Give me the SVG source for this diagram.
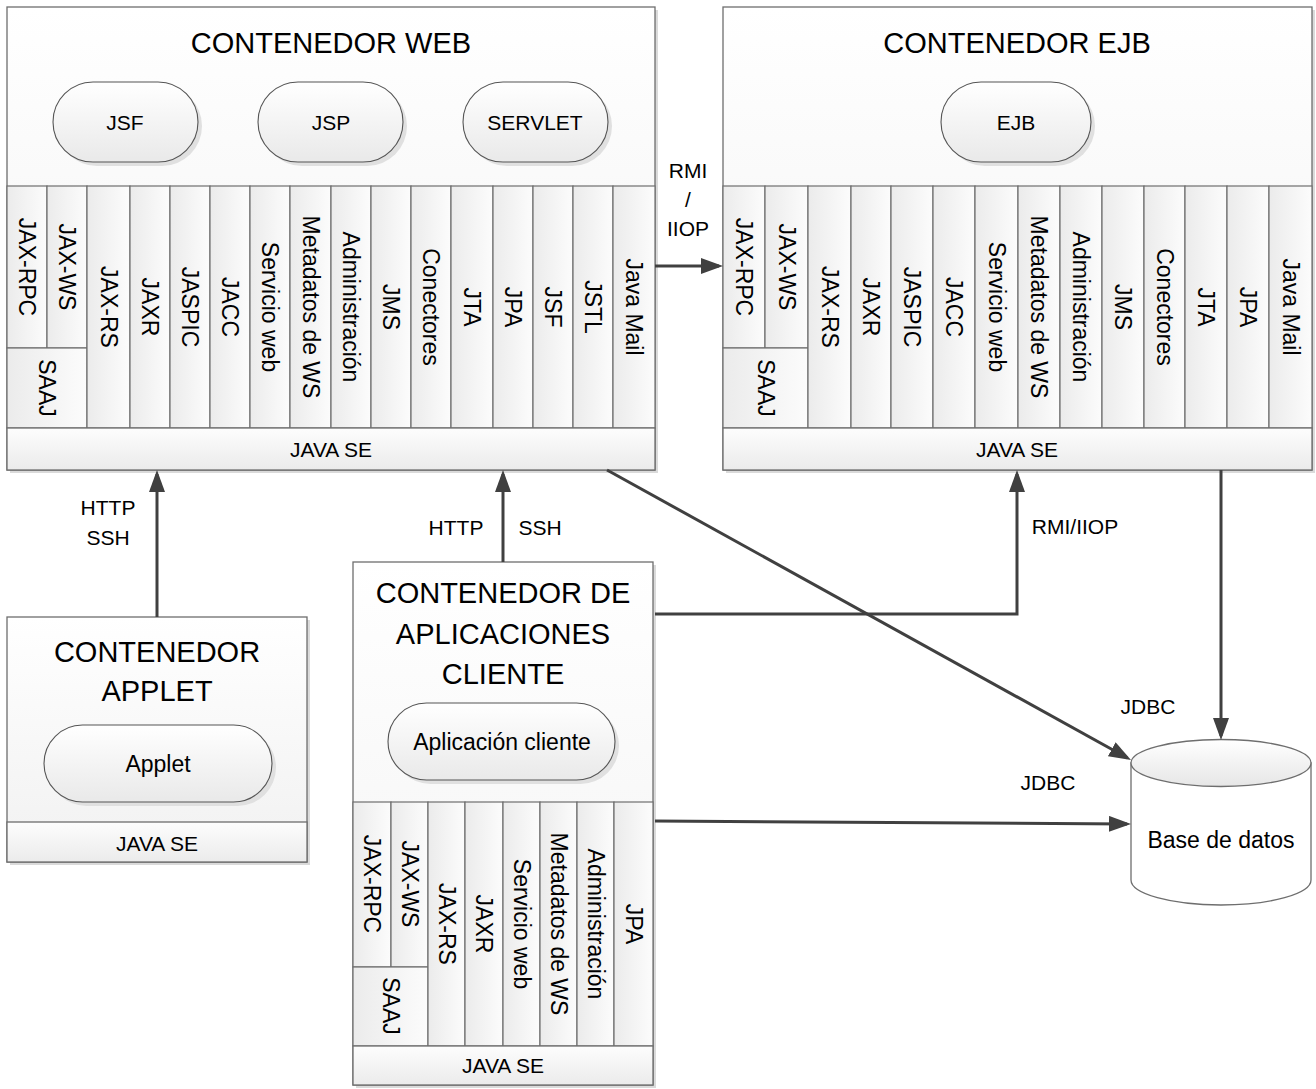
<svg xmlns="http://www.w3.org/2000/svg" width="1316" height="1089" viewBox="0 0 1316 1089">
<defs>
  <linearGradient id="gBox" x1="0" y1="0" x2="0" y2="1">
    <stop offset="0" stop-color="#ffffff"/>
    <stop offset="1" stop-color="#f1f1f1"/>
  </linearGradient>
  <linearGradient id="gCol" x1="0" y1="0" x2="1" y2="0">
    <stop offset="0" stop-color="#ebebeb"/>
    <stop offset="1" stop-color="#fcfcfc"/>
  </linearGradient>
  <linearGradient id="gBand" x1="0" y1="0" x2="0" y2="1">
    <stop offset="0" stop-color="#fdfdfd"/>
    <stop offset="1" stop-color="#ebebeb"/>
  </linearGradient>
  <linearGradient id="gPill" x1="0" y1="0" x2="0" y2="1">
    <stop offset="0" stop-color="#ffffff"/>
    <stop offset="1" stop-color="#e9e9e9"/>
  </linearGradient>
  <linearGradient id="gTop" x1="0" y1="0" x2="0" y2="1">
    <stop offset="0" stop-color="#ffffff"/>
    <stop offset="1" stop-color="#e6e6e6"/>
  </linearGradient>
  <marker id="arr" markerUnits="userSpaceOnUse" markerWidth="22" markerHeight="16" viewBox="0 0 22 16" refX="18" refY="8" orient="auto">
    <path d="M0,0 L22,8 L0,16 Z" fill="#404040"/>
  </marker>
  <style>
    .box{fill:url(#gBox);stroke:#6e6e6e;stroke-width:1.3}
    .col{fill:url(#gCol);stroke:#6e6e6e;stroke-width:1.2}
    .band{fill:url(#gBand);stroke:#6e6e6e;stroke-width:1.3}
    .pill{fill:url(#gPill);stroke:#555;stroke-width:1.1}
    .sh{fill:#dadada}
    .shp{fill:#e0e0e0}
    .t{font-family:"Liberation Sans",Arial,sans-serif;fill:#000;text-anchor:middle;dominant-baseline:central}
    .title{font-size:29px}
    .s{font-size:21px}
    .m{font-size:23px}
    .r{font-size:23px}
    .conn{fill:none;stroke:#404040;stroke-width:3}
  </style>
</defs>

<!-- CONTENEDOR WEB -->
<g id="web">
  <rect class="sh" x="10" y="10" width="648" height="463"/>
  <rect class="box" x="7" y="7" width="648" height="463"/>
  <text class="t title" x="331" y="43">CONTENEDOR WEB</text>
  <rect class="shp" x="57" y="86" width="145" height="80" rx="40"/>
  <rect class="pill" x="53" y="82" width="145" height="80" rx="40"/>
  <text class="t s" x="125" y="122">JSF</text>
  <rect class="shp" x="262" y="86" width="145" height="80" rx="40"/>
  <rect class="pill" x="258" y="82" width="145" height="80" rx="40"/>
  <text class="t s" x="331" y="122">JSP</text>
  <rect class="shp" x="467" y="86" width="145" height="80" rx="40"/>
  <rect class="pill" x="463" y="82" width="145" height="80" rx="40"/>
  <text class="t s" x="535" y="122">SERVLET</text>
  <rect class="col" x="7" y="186" width="40" height="162"/>
  <rect class="col" x="47" y="186" width="40" height="162"/>
  <rect class="col" x="7" y="348" width="80" height="80"/>
  <rect class="col" x="87" y="186" width="43" height="242"/>
  <rect class="col" x="130" y="186" width="40" height="242"/>
  <rect class="col" x="170" y="186" width="40" height="242"/>
  <rect class="col" x="210" y="186" width="40" height="242"/>
  <rect class="col" x="250" y="186" width="40" height="242"/>
  <rect class="col" x="290" y="186" width="41" height="242"/>
  <rect class="col" x="331" y="186" width="40" height="242"/>
  <rect class="col" x="371" y="186" width="40" height="242"/>
  <rect class="col" x="411" y="186" width="40" height="242"/>
  <rect class="col" x="451" y="186" width="42" height="242"/>
  <rect class="col" x="493" y="186" width="40" height="242"/>
  <rect class="col" x="533" y="186" width="40" height="242"/>
  <rect class="col" x="573" y="186" width="40" height="242"/>
  <rect class="col" x="613" y="186" width="42" height="242"/>
  <rect class="band" x="7" y="428" width="648" height="42"/>
  <text class="t s" x="331" y="449">JAVA SE</text>
  <g class="t r">
    <text transform="translate(27,267) rotate(90)">JAX-RPC</text>
    <text transform="translate(67,267) rotate(90)">JAX-WS</text>
    <text transform="translate(47,388) rotate(90)">SAAJ</text>
    <text transform="translate(108.5,307) rotate(90)">JAX-RS</text>
    <text transform="translate(150,307) rotate(90)">JAXR</text>
    <text transform="translate(190,307) rotate(90)">JASPIC</text>
    <text transform="translate(230,307) rotate(90)">JACC</text>
    <text transform="translate(270,307) rotate(90)">Servicio web</text>
    <text transform="translate(310.5,307) rotate(90)">Metadatos de WS</text>
    <text transform="translate(351,307) rotate(90)">Administración</text>
    <text transform="translate(391,307) rotate(90)">JMS</text>
    <text transform="translate(431,307) rotate(90)">Conectores</text>
    <text transform="translate(472,307) rotate(90)">JTA</text>
    <text transform="translate(513,307) rotate(90)">JPA</text>
    <text transform="translate(553,307) rotate(90)">JSF</text>
    <text transform="translate(593,307) rotate(90)">JSTL</text>
    <text transform="translate(634,307) rotate(90)">Java Mail</text>
  </g>
</g>

<!-- CONTENEDOR EJB -->
<g id="ejb">
  <rect class="sh" x="726" y="10" width="589" height="463"/>
  <rect class="box" x="723" y="7" width="589" height="463"/>
  <text class="t title" x="1017" y="43">CONTENEDOR EJB</text>
  <rect class="shp" x="945" y="86" width="150" height="80" rx="40"/>
  <rect class="pill" x="941" y="82" width="150" height="80" rx="40"/>
  <text class="t s" x="1016" y="122">EJB</text>
  <rect class="col" x="723" y="186" width="42" height="162"/>
  <rect class="col" x="765" y="186" width="43" height="162"/>
  <rect class="col" x="723" y="348" width="85" height="80"/>
  <rect class="col" x="808" y="186" width="43" height="242"/>
  <rect class="col" x="851" y="186" width="40" height="242"/>
  <rect class="col" x="891" y="186" width="42" height="242"/>
  <rect class="col" x="933" y="186" width="42" height="242"/>
  <rect class="col" x="975" y="186" width="43" height="242"/>
  <rect class="col" x="1018" y="186" width="42" height="242"/>
  <rect class="col" x="1060" y="186" width="42" height="242"/>
  <rect class="col" x="1102" y="186" width="42" height="242"/>
  <rect class="col" x="1144" y="186" width="41" height="242"/>
  <rect class="col" x="1185" y="186" width="42" height="242"/>
  <rect class="col" x="1227" y="186" width="42" height="242"/>
  <rect class="col" x="1269" y="186" width="43" height="242"/>
  <rect class="band" x="723" y="428" width="589" height="42"/>
  <text class="t s" x="1017" y="449">JAVA SE</text>
  <g class="t r">
    <text transform="translate(744,267) rotate(90)">JAX-RPC</text>
    <text transform="translate(786.5,267) rotate(90)">JAX-WS</text>
    <text transform="translate(765.5,388) rotate(90)">SAAJ</text>
    <text transform="translate(829.5,307) rotate(90)">JAX-RS</text>
    <text transform="translate(871,307) rotate(90)">JAXR</text>
    <text transform="translate(912,307) rotate(90)">JASPIC</text>
    <text transform="translate(954,307) rotate(90)">JACC</text>
    <text transform="translate(996.5,307) rotate(90)">Servicio web</text>
    <text transform="translate(1039,307) rotate(90)">Metadatos de WS</text>
    <text transform="translate(1081,307) rotate(90)">Administración</text>
    <text transform="translate(1123,307) rotate(90)">JMS</text>
    <text transform="translate(1164.5,307) rotate(90)">Conectores</text>
    <text transform="translate(1206,307) rotate(90)">JTA</text>
    <text transform="translate(1248,307) rotate(90)">JPA</text>
    <text transform="translate(1290.5,307) rotate(90)">Java Mail</text>
  </g>
</g>

<!-- CONTENEDOR APPLET -->
<g id="applet">
  <rect class="sh" x="10" y="620" width="300" height="245"/>
  <rect class="box" x="7" y="617" width="300" height="245"/>
  <text class="t title" x="157" y="652">CONTENEDOR</text>
  <text class="t title" x="157" y="691">APPLET</text>
  <rect class="shp" x="48" y="729" width="228" height="77" rx="38.5"/>
  <rect class="pill" x="44" y="725" width="228" height="77" rx="38.5"/>
  <text class="t m" x="158" y="764">Applet</text>
  <rect class="band" x="7" y="822" width="300" height="40"/>
  <text class="t s" x="157" y="843">JAVA SE</text>
</g>

<!-- CONTENEDOR DE APLICACIONES CLIENTE -->
<g id="cliente">
  <rect class="sh" x="356" y="565" width="300" height="523"/>
  <rect class="box" x="353" y="562" width="300" height="523"/>
  <text class="t title" x="503" y="593">CONTENEDOR DE</text>
  <text class="t title" x="503" y="634">APLICACIONES</text>
  <text class="t title" x="503" y="674">CLIENTE</text>
  <rect class="shp" x="392" y="707" width="227" height="77" rx="38.5"/>
  <rect class="pill" x="388" y="703" width="227" height="77" rx="38.5"/>
  <text class="t m" x="502" y="742">Aplicación cliente</text>
  <rect class="col" x="353" y="802" width="38" height="165"/>
  <rect class="col" x="391" y="802" width="37" height="165"/>
  <rect class="col" x="353" y="967" width="75" height="79"/>
  <rect class="col" x="428" y="802" width="37" height="244"/>
  <rect class="col" x="465" y="802" width="38" height="244"/>
  <rect class="col" x="503" y="802" width="37" height="244"/>
  <rect class="col" x="540" y="802" width="37" height="244"/>
  <rect class="col" x="577" y="802" width="37" height="244"/>
  <rect class="col" x="614" y="802" width="39" height="244"/>
  <rect class="band" x="353" y="1046" width="300" height="39"/>
  <text class="t s" x="503" y="1065">JAVA SE</text>
  <g class="t r">
    <text transform="translate(372,884) rotate(90)">JAX-RPC</text>
    <text transform="translate(409.5,884) rotate(90)">JAX-WS</text>
    <text transform="translate(390.5,1006) rotate(90)">SAAJ</text>
    <text transform="translate(446.5,924) rotate(90)">JAX-RS</text>
    <text transform="translate(484,924) rotate(90)">JAXR</text>
    <text transform="translate(521.5,924) rotate(90)">Servicio web</text>
    <text transform="translate(558.5,924) rotate(90)">Metadatos de WS</text>
    <text transform="translate(595.5,924) rotate(90)">Administración</text>
    <text transform="translate(633.5,924) rotate(90)">JPA</text>
  </g>
</g>

<!-- Base de datos -->
<g id="db">
  <path d="M1131,763 L1131,880 A90,25 0 0 0 1311,880 L1311,763 Z" fill="#ffffff" stroke="#6e6e6e" stroke-width="1.3"/>
  <ellipse cx="1221" cy="763" rx="90" ry="23.5" fill="url(#gTop)" stroke="#6e6e6e" stroke-width="1.3"/>
  <text class="t m" x="1221" y="840">Base de datos</text>
</g>

<!-- Connectors -->
<g id="connectors">
  <line class="conn" x1="157" y1="617" x2="157" y2="474" marker-end="url(#arr)"/>
  <line class="conn" x1="503" y1="562" x2="503" y2="474" marker-end="url(#arr)"/>
  <polyline class="conn" points="655,614 1017,614 1017,474" marker-end="url(#arr)"/>
  <line class="conn" x1="655" y1="266" x2="719" y2="266" marker-end="url(#arr)"/>
  <line class="conn" x1="607" y1="470" x2="1127.5" y2="758" marker-end="url(#arr)"/>
  <line class="conn" x1="1221" y1="470" x2="1221" y2="736" marker-end="url(#arr)"/>
  <line class="conn" x1="655" y1="821" x2="1127" y2="824" marker-end="url(#arr)"/>
  <g class="t s">
    <text x="688" y="170">RMI</text>
    <text x="688" y="199">/</text>
    <text x="688" y="228">IIOP</text>
    <text x="108" y="507">HTTP</text>
    <text x="108" y="537">SSH</text>
    <text x="456" y="527">HTTP</text>
    <text x="540" y="527">SSH</text>
    <text x="1075" y="526">RMI/IIOP</text>
    <text x="1148" y="706">JDBC</text>
    <text x="1048" y="782">JDBC</text>
  </g>
</g>
</svg>
